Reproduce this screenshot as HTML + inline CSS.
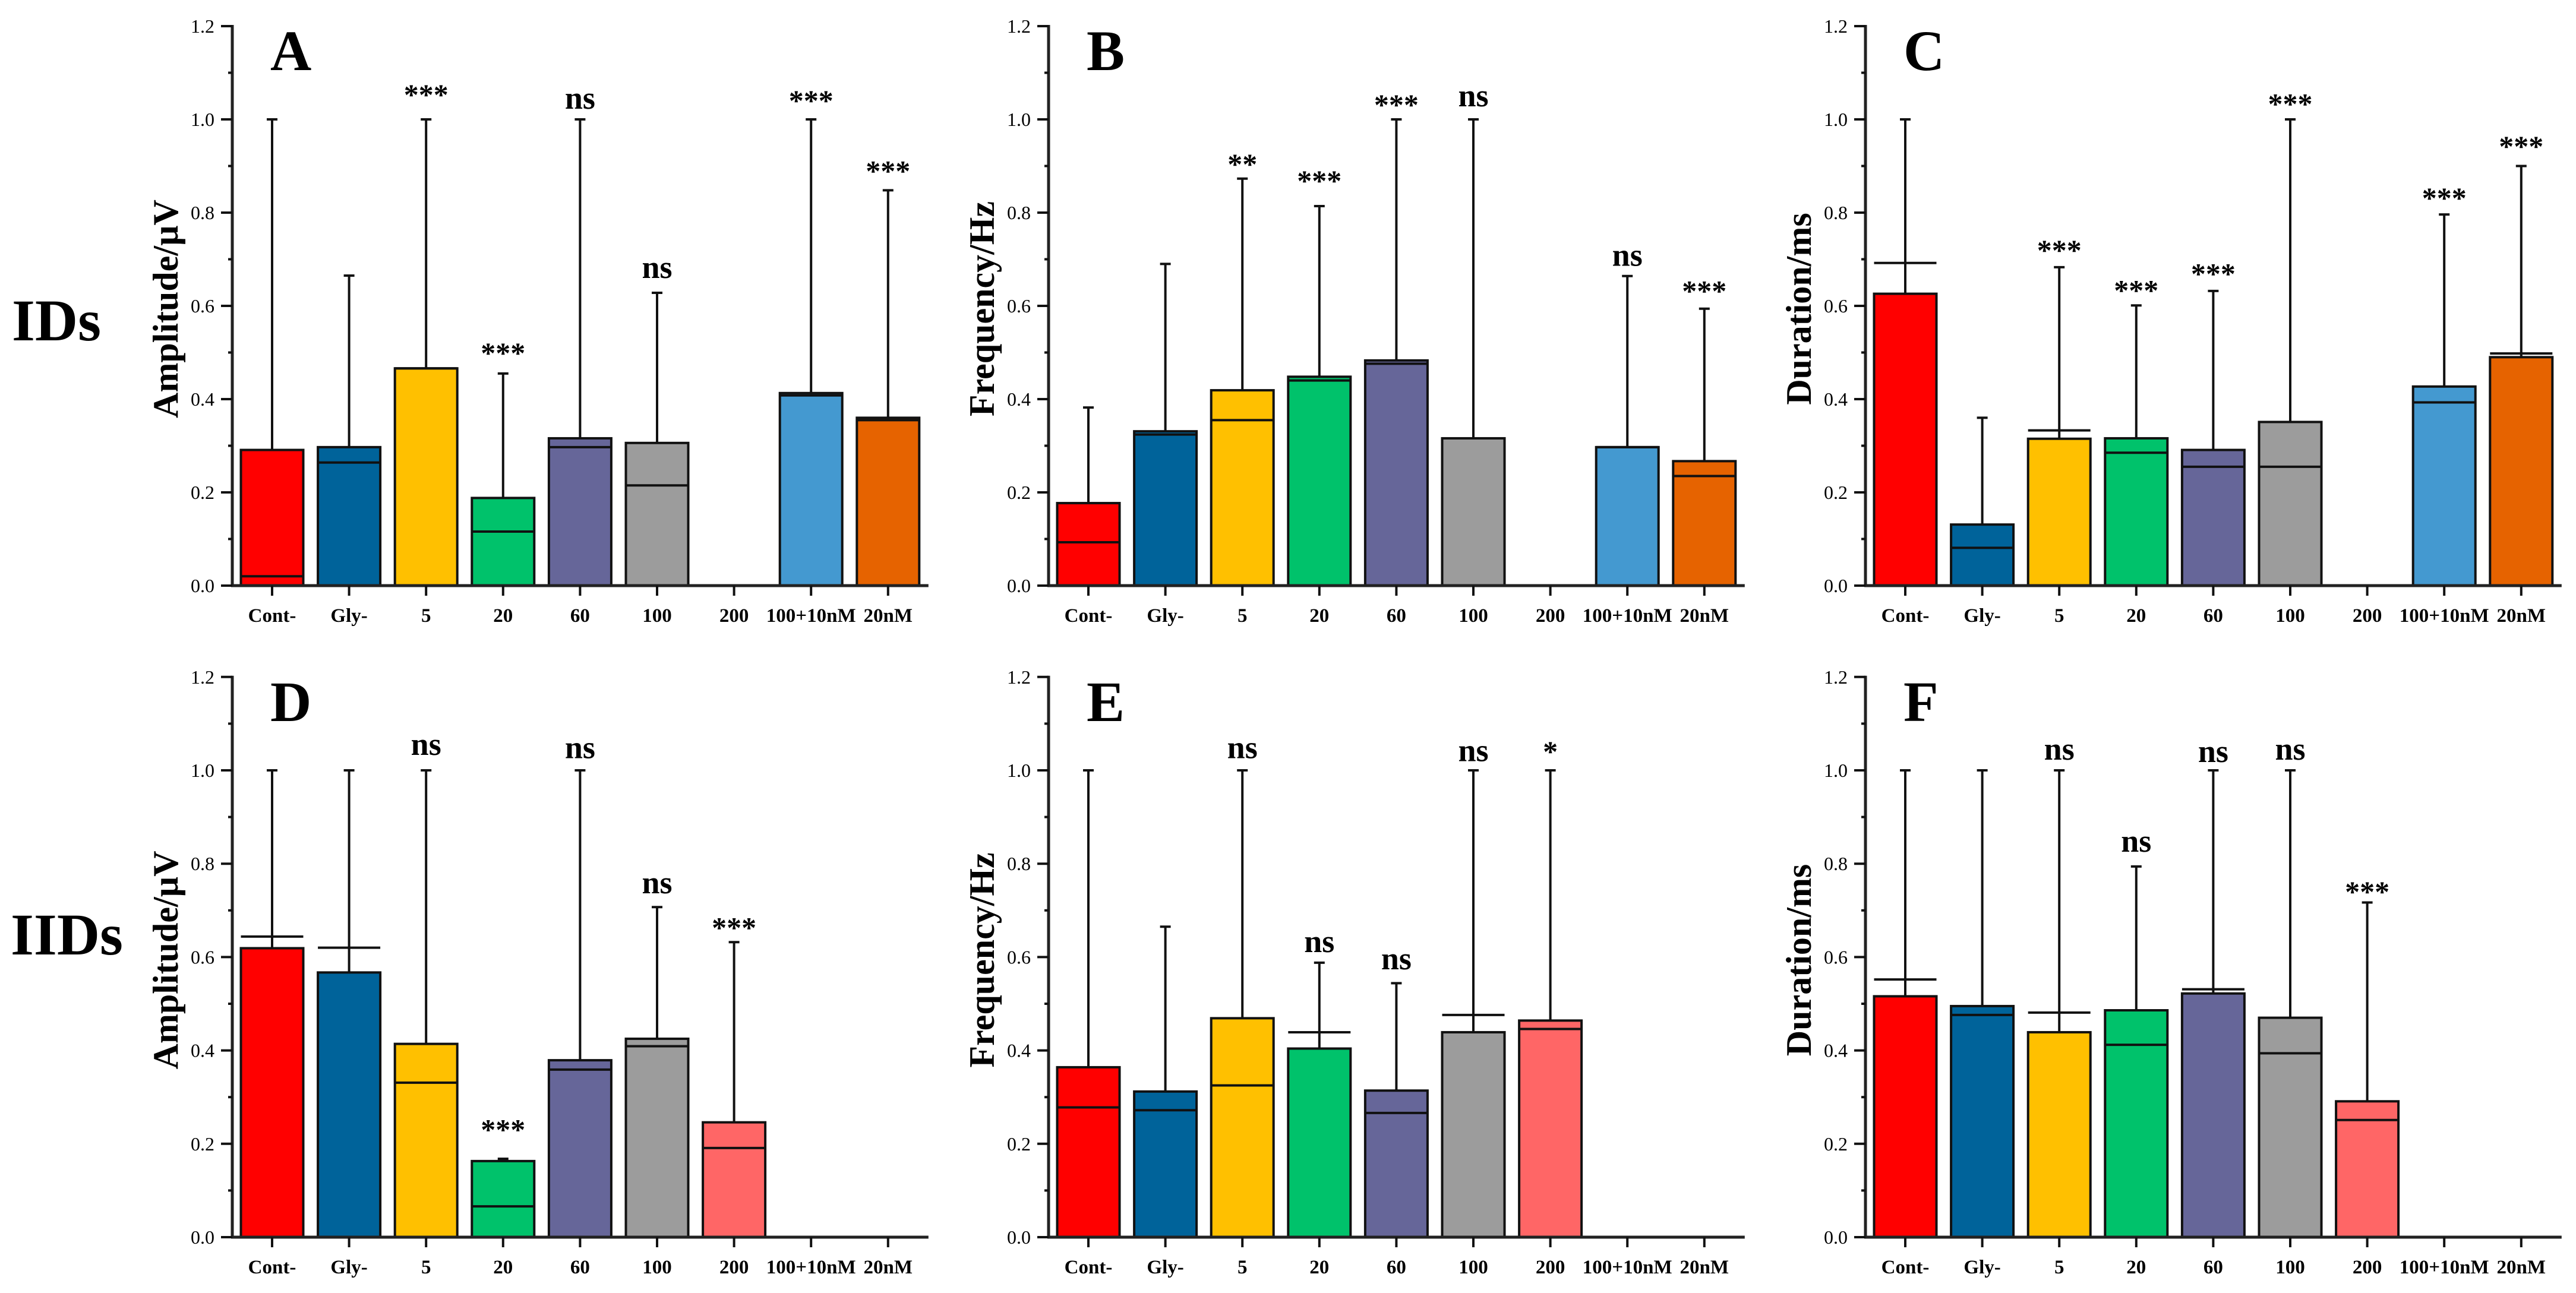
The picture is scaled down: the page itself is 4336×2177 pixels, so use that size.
<!DOCTYPE html>
<html><head><meta charset="utf-8">
<style>
html,body{margin:0;padding:0;background:#fff;}
svg{display:block;}
text{font-family:"Liberation Serif",serif;}
</style></head>
<body>
<svg id="fig" width="4336" height="2177" viewBox="0 0 4336 2177" xmlns="http://www.w3.org/2000/svg">
<text x="20" y="573" font-size="100" font-weight="bold">IDs</text>
<text x="18" y="1607" font-size="100" font-weight="bold">IIDs</text>
</svg>
<script>
const categories = ["Cont-","Gly-","5","20","60","100","200","100+10nM","20nM"];
const colors = ["#ff0000","#00639a","#ffc000","#00c26b","#666699","#9c9c9c","#ff6666","#4499d0","#e66300"];
const yTicks = ["0.0","0.2","0.4","0.6","0.8","1.0","1.2"];

// Panel A
const aBar = [0.291,0.297,0.466,0.188,0.316,0.306,null,0.413,0.360];
const aLine = [0.020,0.264,0.466,0.116,0.297,0.215,null,0.408,0.355];
const aErr = [1.0,0.665,1.0,0.455,1.0,0.628,null,1.0,0.848];
const aSig = ["","","***","***","ns","ns","","***","***"];
const aSigY = [0,0,1.067,0.513,1.04,0.677,0,1.054,0.903];
// Panel B
const bBar = [0.177,0.331,0.419,0.448,0.483,0.316,null,0.297,0.267];
const bLine = [0.093,0.324,0.355,0.440,0.476,0.316,null,0.297,0.235];
const bErr = [0.382,0.690,0.873,0.814,1.0,1.0,null,0.664,0.594];
const bSig = ["","","**","***","***","ns","","ns","***"];
const bSigY = [0,0,0.918,0.882,1.045,1.045,0,0.703,0.646];
// Panel C
const cBar = [0.626,0.131,0.315,0.316,0.291,0.351,null,0.427,0.490];
const cLine = [0.692,0.081,0.333,0.285,0.255,0.255,null,0.393,0.498];
const cErr = [1.0,0.360,0.683,0.601,0.632,1.0,null,0.796,0.900];
const cSig = ["","","***","***","***","***","","***","***"];
const cSigY = [0,0,0.733,0.647,0.683,1.047,0,0.845,0.956];
// Panel D
const dBar = [0.619,0.567,0.414,0.163,0.379,0.425,0.246,null,null];
const dLine = [0.644,0.620,0.331,0.066,0.359,0.409,0.191,null,null];
const dErr = [1.0,1.0,1.0,0.168,1.0,0.707,0.632,null,null];
const dSig = ["","","ns","***","ns","ns","***","",""];
const dSigY = [0,0,1.05,0.244,1.043,0.754,0.677,0,0];
// Panel E
const eBar = [0.364,0.312,0.469,0.404,0.314,0.439,0.464,null,null];
const eLine = [0.278,0.272,0.325,0.439,0.266,0.476,0.446,null,null];
const eErr = [1.0,0.665,1.0,0.588,0.544,1.0,1.0,null,null];
const eSig = ["","","ns","ns","ns","ns","*","",""];
const eSigY = [0,0,1.043,0.628,0.591,1.037,1.054,0,0];
// Panel F
const fBar = [0.516,0.495,0.439,0.486,0.522,0.470,0.291,null,null];
const fLine = [0.552,0.476,0.481,0.412,0.531,0.394,0.251,null,null];
const fErr = [1.0,1.0,1.0,0.794,1.0,1.0,0.717,null,null];
const fSig = ["","","ns","ns","ns","ns","***","",""];
const fSigY = [0,0,1.04,0.843,1.035,1.04,0.754,0,0];

const NS = "http://www.w3.org/2000/svg";
const svg = document.getElementById("fig");
function mk(tag, attrs, parent){
  const e = document.createElementNS(NS, tag);
  for (const k in attrs) e.setAttribute(k, attrs[k]);
  (parent||svg).appendChild(e);
  return e;
}
const panels = [
  {id:"a",letter:"A",title:"Amplitude/\u00b5V",ax:391,y0:986,unit:785,bar:aBar,line:aLine,err:aErr,sig:aSig,sigY:aSigY},
  {id:"b",letter:"B",title:"Frequency/Hz",ax:1765,y0:986,unit:785,bar:bBar,line:bLine,err:bErr,sig:bSig,sigY:bSigY},
  {id:"c",letter:"C",title:"Duration/ms",ax:3140,y0:986,unit:785,bar:cBar,line:cLine,err:cErr,sig:cSig,sigY:cSigY},
  {id:"d",letter:"D",title:"Amplitude/\u00b5V",ax:391,y0:2083,unit:786,bar:dBar,line:dLine,err:dErr,sig:dSig,sigY:dSigY},
  {id:"e",letter:"E",title:"Frequency/Hz",ax:1765,y0:2083,unit:786,bar:eBar,line:eLine,err:eErr,sig:eSig,sigY:eSigY},
  {id:"f",letter:"F",title:"Duration/ms",ax:3140,y0:2083,unit:786,bar:fBar,line:fLine,err:fErr,sig:fSig,sigY:fSigY}
];
panels.forEach(p=>{
  const g = mk("g",{});
  
  
  const yS = v => p.y0 - v*p.unit;
  const xS = i => p.ax + 67 + i*129.6;
  const bw = 105;
  // bars
  categories.forEach((c,i)=>{
    if (p.bar[i]===null) return;
    const x = xS(i), top = yS(p.bar[i]);
    // whisker
    const w = mk("line",{x1:x,x2:x,y1:top,y2:yS(p.err[i]),stroke:"#111","stroke-width":4},g);
    
    
    mk("line",{x1:x-9,x2:x+9,y1:yS(p.err[i]),y2:yS(p.err[i]),stroke:"#111","stroke-width":4},g);
    const r = mk("rect",{x:x-bw/2,y:top,width:bw,height:p.y0-top,fill:colors[i],stroke:"#111","stroke-width":4},g);
    
    
    const ly = yS(p.line[i]);
    const l = mk("line",{x1:x-bw/2,x2:x+bw/2,y1:ly,y2:ly,stroke:"#111","stroke-width":4},g);
    
    
    if (p.sig[i]) {
      const t = mk("text",{x:x,y:yS(p.sigY[i]),"text-anchor":"middle","font-size":p.sig[i]==="ns"?54:50,"font-weight":"bold",dy:p.sig[i]==="ns"?"0.25em":"0.55em"},g);
      t.textContent = p.sig[i];
      
      
    }
  });
  // axes
  const xEnd = p.ax + 67 + 8*129.6 + 68;
  const ya = mk("line",{x1:p.ax,x2:p.ax,y1:yS(1.2)-2,y2:p.y0+2,stroke:"#222","stroke-width":5},g);
  
  
  const xa = mk("line",{x1:p.ax-2,x2:xEnd,y1:p.y0,y2:p.y0,stroke:"#222","stroke-width":5},g);
  
  
  yTicks.forEach((lab,k)=>{
    const y = yS(parseFloat(lab));
    mk("line",{x1:p.ax-19,x2:p.ax,y1:y,y2:y,stroke:"#111","stroke-width":4},g);
    if (k<6){ const ym=yS(parseFloat(lab)+0.1); mk("line",{x1:p.ax-7,x2:p.ax,y1:ym,y2:ym,stroke:"#111","stroke-width":4},g); }
    const t = mk("text",{x:p.ax-30,y:y+11,"text-anchor":"end","font-size":32},g);
    t.textContent = lab;
    
    
  });
  categories.forEach((c,i)=>{
    const x = xS(i);
    mk("line",{x1:x,x2:x,y1:p.y0,y2:p.y0+17,stroke:"#111","stroke-width":4},g);
    const t = mk("text",{x:x,y:p.y0+61,"text-anchor":"middle","font-size":33,"font-weight":"bold"},g);
    t.textContent = c;
    
    
  });
  const tt = mk("text",{x:0,y:0,"text-anchor":"middle","font-size":60,"font-weight":"bold",transform:`translate(${p.ax-92},${yS(0.6)+5}) rotate(-90)`},g);
  tt.textContent = p.title;
  
  
  const lt = mk("text",{x:p.ax+64,y:yS(1.2)+74,"font-size":96,"font-weight":"bold"},g);
  lt.textContent = p.letter;
  
  
});
</script>
</body></html>
